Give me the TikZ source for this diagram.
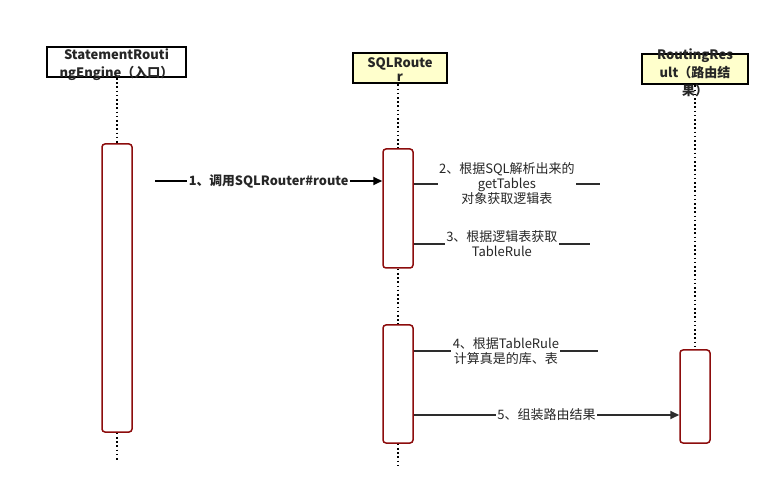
\documentclass[tikz,border=0pt]{standalone}
\usepackage{fontspec}
\setmainfont{Noto Sans CJK SC}
\usetikzlibrary{arrows.meta}
\definecolor{actred}{RGB}{140,12,12}
\definecolor{headyellow}{RGB}{255,255,204}
\definecolor{msggray}{RGB}{45,45,45}
\tikzset{
  lifehead/.style={draw=black, line width=2pt, minimum width=#1, minimum height=30pt, inner sep=0pt},
  headtext/.style={font=\fontsize{13}{18}\selectfont\bfseries, align=center, text=black!85, yshift=-3pt},
  actbox/.style={draw=actred, line width=1.5pt, rounded corners=3pt, fill=white, minimum width=30pt, inner sep=0pt},
  lifeline/.style={line width=1.6pt, dash pattern=on 1.6pt off 2.6pt},
  msglabel/.style={fill=white, inner xsep=1.5pt, inner ysep=1pt, align=center, font=\fontsize{13}{15}\selectfont, text=black!85},
  selfmsg/.style={draw=msggray, line width=1.3pt},
  callmsg/.style={draw=msggray, line width=2pt, -{Triangle[length=9pt,width=8pt]}}
}
\begin{document}
\begin{tikzpicture}[x=1pt, y=-1pt]
    \useasboundingbox (0,0) rectangle (779,502);

    % Draw the three participants
    \node[lifehead=139pt, fill=white, label={[headtext]center:StatementRouti\\ngEngine（入口）}] (engine) at (116.5,62) {};
    \node[lifehead=94pt, fill=headyellow, label={[headtext, font=\fontsize{13}{14}\selectfont\bfseries, yshift=2pt]center:SQLRoute\\r}] (router) at (400,68.5) {};
    \node[lifehead=106pt, fill=headyellow, label={[headtext]center:RoutingRes\\ult（路由结\\果）}] (result) at (695,69.5) {};

    % Activation boxes
    \node[actbox, minimum height=288pt] (actengine) at (117,288) {};
    \node[actbox, minimum height=119pt] (actrouteA) at (398,208.5) {};
    \node[actbox, minimum height=118pt] (actrouteB) at (398,384) {};
    \node[actbox, minimum height=93pt] (actresult) at (695,396.5) {};

    % Ends of the lifelines
    \coordinate (engineend) at (117,461);
    \coordinate (routerend) at (398,466);

    % Dotted lifelines
    \draw[lifeline] (engine.south -| actengine) -- (actengine.north);
    \draw[lifeline] (actengine.south) -- (engineend);
    \draw[lifeline] (router.south -| actrouteA) -- (actrouteA.north);
    \draw[lifeline] (actrouteA.south) -- (actrouteB.north);
    \draw[lifeline] (actrouteB.south) -- (routerend);
    \draw[lifeline] (result.south) -- (actresult.north);

    % Message 1: call into SQLRouter
    \coordinate (callstart) at (155,181);
    \draw[callmsg, draw=black] (callstart) -- (actrouteA.west |- callstart)
        node[midway, msglabel, font=\fontsize{12.8}{15}\selectfont\bfseries] {1、调用SQLRouter\#route};

    % Messages 2-4: work done inside SQLRouter
    \coordinate (stepb) at (600,184);
    \draw[selfmsg] (actrouteA.east |- stepb) -- (stepb)
        node[midway, msglabel] {2、根据SQL解析出来的\\getTables\\对象获取逻辑表};
    \coordinate (stepc) at (590,244);
    \draw[selfmsg] (actrouteA.east |- stepc) -- (stepc)
        node[midway, msglabel] {3、根据逻辑表获取\\TableRule};
    \coordinate (stepd) at (598,351);
    \draw[selfmsg] (actrouteB.east |- stepd) -- (stepd)
        node[midway, msglabel] {4、根据TableRule\\计算真是的库、表};

    % Message 5: build the routing result
    \coordinate (stepe) at (600,415);
    \draw[callmsg] (actrouteB.east |- stepe) -- (actresult.west |- stepe)
        node[midway, msglabel] {5、组装路由结果};
\end{tikzpicture}
\end{document}
